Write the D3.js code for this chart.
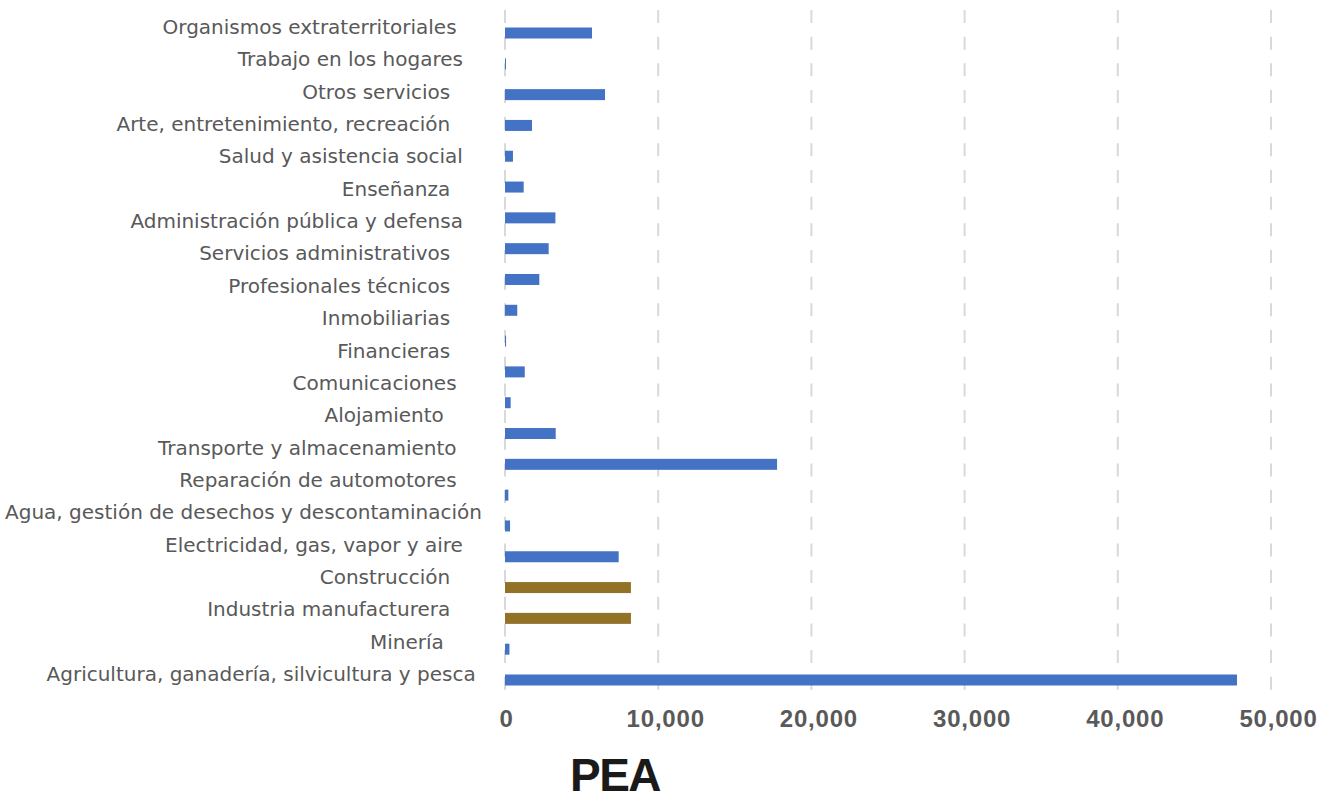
<!DOCTYPE html>
<html>
<head>
<meta charset="utf-8">
<script src="https://cdn.jsdelivr.net/npm/d3@7"></script>
<style>
  body { margin: 0; background: #fff; }
  .lbl { white-space: pre; }
</style>
</head>
<body>
<svg id="chart" width="1322" height="801"></svg>
<script>
// sector names, top to bottom (trailing spaces as in the source sheet)
var sectors = [
  "Organismos extraterritoriales    ",
  "Trabajo en los hogares   ",
  "Otros servicios     ",
  "Arte, entretenimiento, recreación     ",
  "Salud y asistencia social   ",
  "Enseñanza     ",
  "Administración pública y defensa   ",
  "Servicios administrativos     ",
  "Profesionales técnicos     ",
  "Inmobiliarias     ",
  "Financieras     ",
  "Comunicaciones    ",
  "Alojamiento      ",
  "Transporte y almacenamiento    ",
  "Reparación de automotores    ",
  "Agua, gestión de desechos y descontaminación",
  "Electricidad, gas, vapor y aire   ",
  "Construcción     ",
  "Industria manufacturera     ",
  "Minería      ",
  "Agricultura, ganadería, silvicultura y pesca "
];

// PEA per bar, top to bottom (the bar series has one more row than the label column)
var pea = [5680, 20, 6530, 1760, 520, 1220, 3290, 2850, 2240, 800, 70,
           1290, 370, 3310, 17760, 220, 330, 7420, 8220, 8220, 290, 47780];

var xTicks = [0, 10000, 20000, 30000, 40000, 50000];
var title = "PEA";

var svg = d3.select("#chart");

// x scale
var x = d3.scaleLinear().domain([0, 50000]).range([505, 1271]);

// bars have their own band scale
var yBar = d3.scaleBand()
    .domain(d3.range(pea.length))
    .range([17.6, 695.4])
    .paddingInner(0.643)
    .paddingOuter(0.3215);

// labels sit on their own evenly spaced rows
var yLbl = d3.scalePoint()
    .domain(sectors)
    .range([26.5, 673.5]);

// dashed gridlines
svg.append("g")
  .selectAll("line")
  .data(xTicks)
  .enter()
  .append("line")
    .attr("x1", function(d) { return x(d); })
    .attr("x2", function(d) { return x(d); })
    .attr("y1", 10)
    .attr("y2", 690)
    .style("stroke", "#d9d9d9")
    .style("stroke-width", 2)
    .style("stroke-dasharray", "13,13.67");

// bars
var gold = [18, 19];
svg.append("g")
  .selectAll("rect")
  .data(pea)
  .enter()
  .append("rect")
    .attr("x", x(0))
    .attr("y", function(d, i) { return yBar(i); })
    .attr("width", function(d) { return Math.max(1, x(d) - x(0)); })
    .attr("height", yBar.bandwidth())
    .style("fill", function(d, i) { return gold.indexOf(i) >= 0 ? "#917226" : "#4472C4"; });

// category labels
svg.append("g")
  .selectAll("text")
  .data(sectors)
  .enter()
  .append("text")
    .attr("class", "lbl")
    .attr("x", 482)
    .attr("y", function(d) { return yLbl(d) + 7.5; })
    .attr("text-anchor", "end")
    .style("font-family", "'DejaVu Sans', sans-serif")
    .style("font-size", "20px")
    .style("fill", "#595959")
    .text(function(d) { return d; });

// x axis labels
var xAxis = svg.append("g")
    .attr("transform", "translate(0,727)")
    .call(d3.axisBottom(x).tickValues(xTicks).tickSize(0).tickPadding(0).tickFormat(d3.format(",")));
xAxis.select(".domain").remove();
xAxis.selectAll("text")
    .attr("y", 0)
    .attr("dy", 0)
    .attr("dx", function(d) { return d === 0 ? 1 : 7; })
    .style("font-family", "'Liberation Sans', Arial, sans-serif")
    .style("font-size", "24px")
    .style("font-weight", "bold")
    .style("letter-spacing", "0.8px")
    .style("fill", "#595959");

// title
svg.append("text")
    .attr("x", 615)
    .attr("y", 791)
    .attr("text-anchor", "middle")
    .style("font-family", "'Liberation Sans', Arial, sans-serif")
    .style("font-size", "46px")
    .style("font-weight", "bold")
    .style("letter-spacing", "-1.5px")
    .style("fill", "#1a1a1a")
    .text(title);
</script>
</body>
</html>
